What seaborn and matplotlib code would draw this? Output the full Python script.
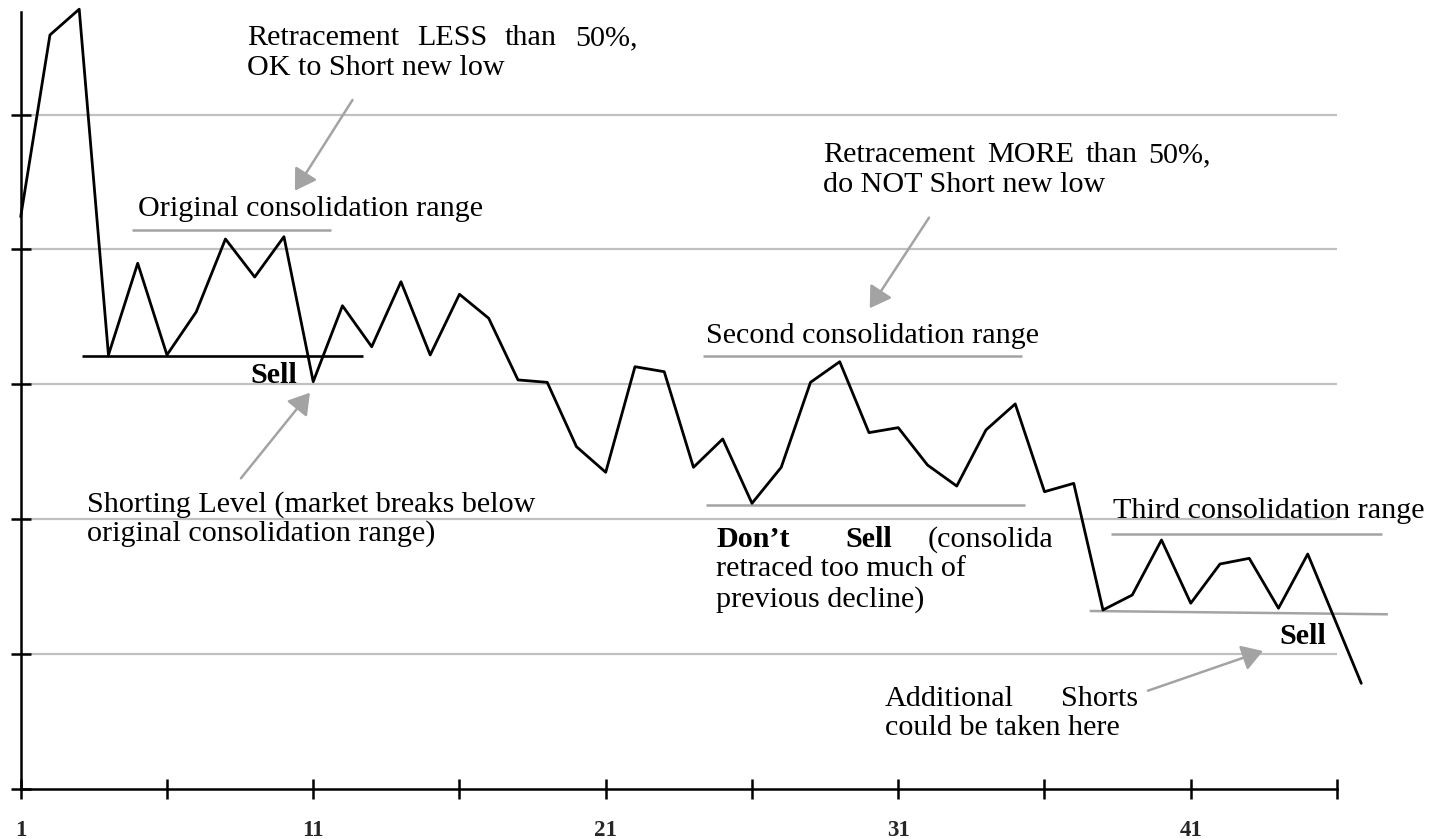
import matplotlib
matplotlib.use("Agg")
import matplotlib.pyplot as plt
from matplotlib.transforms import Bbox, TransformedBbox
import seaborn as sns
import pandas as pd

# ---------------- data ----------------
periods = list(range(1, 46)) + [46.83]
prices = [4.242, 5.590, 5.781, 3.217, 3.897, 3.217, 3.536, 4.077, 3.795, 4.094,
          3.019, 3.582, 3.278, 3.760, 3.217, 3.667, 3.489, 3.032, 3.014, 2.537,
          2.347, 3.130, 3.093, 2.384, 2.594, 2.117, 2.384, 3.014, 3.167, 2.641,
          2.678, 2.401, 2.245, 2.661, 2.854, 2.203, 2.265, 1.326, 1.437, 1.845,
          1.376, 1.667, 1.709, 1.339, 1.741, 0.782]
x_ticks = [1, 6, 11, 16, 21, 26, 31, 36, 41, 46]
x_tick_labels = ["1", "", "11", "", "21", "", "31", "", "41", ""]
y_ticks = [0, 1, 2, 3, 4, 5]
grid_levels = [1, 2, 3, 4, 5]

# ---------------- style ----------------
sns.set_theme(style="white")
plt.rcParams["font.family"] = ["Liberation Serif", "DejaVu Serif"]

W, H = 1443, 839
fig = plt.figure(figsize=(W / 100, H / 100), dpi=100)
fig.patch.set_facecolor("white")
ax_l, ax_r, ax_b, ax_t = 20.7, 1337.0, 788.8, 12.3
ax = fig.add_axes([ax_l / W, (H - ax_b) / H, (ax_r - ax_l) / W, (ax_b - ax_t) / H])
ax.set_facecolor("white")
ax.set_xlim(1, 46)
ax.set_ylim(0, 5.758)

GRID = "#c0c0c0"
ANN = "#a3a3a3"

for lvl in grid_levels:
    ax.axhline(lvl, color=GRID, lw=1.6, zorder=0)

df = pd.DataFrame({"period": periods, "price": prices})
sns.lineplot(data=df, x="period", y="price", ax=ax, color="black", lw=2.0,
             zorder=3, sort=False)
ax.lines[-1].set_clip_on(False)

# axes styling
for s in ["top", "right"]:
    ax.spines[s].set_visible(False)
for s in ["left", "bottom"]:
    ax.spines[s].set_color("black")
    ax.spines[s].set_linewidth(1.8)
ax.set_xlabel("")
ax.set_ylabel("")
ax.set_yticks(y_ticks)
ax.set_yticklabels([])
ax.set_xticks(x_ticks)
ax.set_xticklabels(x_tick_labels, fontsize=16.5, fontweight="bold")
ax.tick_params(axis="both", direction="inout", length=14.4, width=1.8,
               color="black", left=True, bottom=True)
ax.tick_params(axis="x", pad=15)


# pixel (reference image) -> data coordinates helper for annotations
def P(px, py):
    return (1 + (px - ax_l) / 29.26, (ax_b - py) / 134.85)


FS = 21.7


def txt(px, py, s, bold=False, **kw):
    x, y = P(px, py)
    return ax.text(x, y, s, fontsize=FS, color="black", ha="left", va="baseline",
                   fontweight="bold" if bold else "normal", zorder=5, **kw)


def hline(p1, p2, color=ANN, lw=1.8):
    (x1, y1), (x2, y2) = P(*p1), P(*p2)
    ax.plot([x1, x2], [y1, y2], color=color, lw=lw, zorder=2,
            solid_capstyle="butt", clip_on=False)


def arrow(tail, tip):
    ax.annotate("", xy=P(*tip), xytext=P(*tail),
                arrowprops=dict(arrowstyle="-|>,head_length=0.45,head_width=0.28",
                                color=ANN, lw=1.8,
                                mutation_scale=28, shrinkA=0, shrinkB=0),
                zorder=4, annotation_clip=False)


# Retracement LESS text (justified)
txt(247, 45, "Retracement")
txt(417.2, 45, "LESS")
txt(505.3, 45, "than")
txt(574.9, 45, "50%,")
txt(247, 75, "OK to Short new low")
arrow((352.6, 100), (295, 190.7))

# Original consolidation
txt(138, 216, "Original consolidation range")
hline((132.5, 230), (331.5, 230))
hline((82.3, 355.7), (363.3, 355.7), color="black", lw=1.9)
txt(250, 383.3, "Sell", bold=True)
arrow((241, 478.3), (310, 392.7))
txt(87.3, 511.7, "Shorting Level (market breaks below")
txt(87.3, 540.5, "original consolidation range)")

# Retracement MORE
txt(823.3, 162, "Retracement")
txt(987.0, 162, "MORE")
txt(1085.7, 162, "than")
txt(1149.0, 162, "50%,")
txt(823.3, 191.7, "do NOT Short new low")
arrow((929.3, 217.7), (870, 308.3))

# Second consolidation
txt(706, 343.3, "Second consolidation range")
hline((703.3, 355.7), (1022.7, 355.7))
hline((706, 505), (1025, 505))
txt(716.7, 546.7, "Don\u2019t", bold=True)
txt(845.7, 546.7, "Sell", bold=True)
t = txt(928.3, 546.7, "(consolidation")
cx0, cy0 = P(700, 800)
cx1, cy1 = P(1052, 400)
t.set_clip_box(TransformedBbox(Bbox([[cx0, cy0], [cx1, cy1]]), ax.transData))
t.set_clip_on(True)
txt(716.7, 576, "retraced too much of")
txt(716.7, 606.5, "previous decline)")

# Third consolidation
txt(1113.3, 518.3, "Third consolidation range")
hline((1111, 534.3), (1382.7, 534.3))
hline((1090, 611), (1388.3, 614.3))
txt(1279.3, 644, "Sell", bold=True)
arrow((1148.3, 690.7), (1263.3, 651))
txt(885, 706, "Additional")
txt(1061.7, 706, "Shorts")
txt(885, 735, "could be taken here")

fig.savefig("out.png", dpi=100, facecolor="white")
